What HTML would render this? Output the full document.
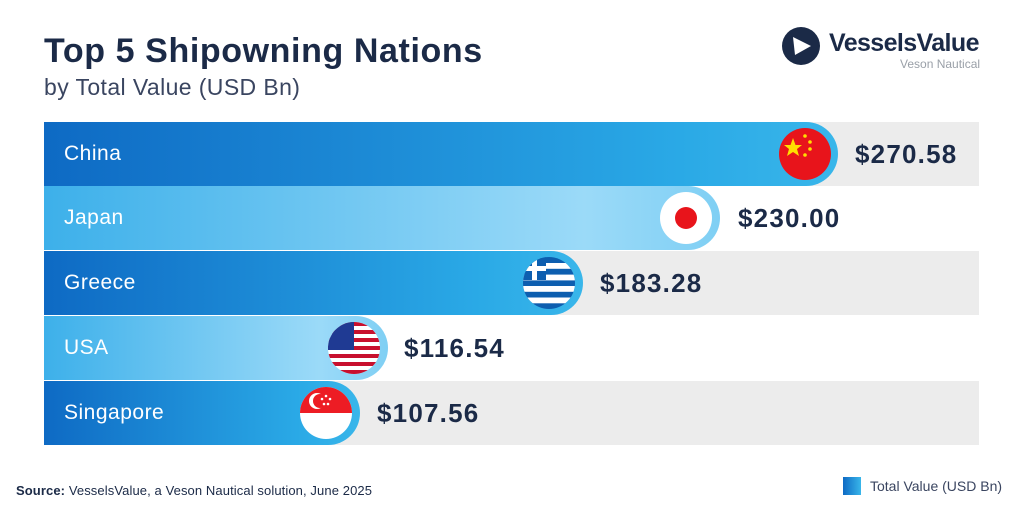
<!DOCTYPE html>
<html><head><meta charset="utf-8"><style>
body{margin:0;width:1024px;height:512px;background:#fff;position:relative;overflow:hidden;font-family:"Liberation Sans",sans-serif;color:#1b2a47}
.t{position:absolute;left:44px;top:32px;font-size:34px;font-weight:bold;letter-spacing:0.6px}
.s{position:absolute;left:44px;top:74px;font-size:23px;color:#3a4560;letter-spacing:0.4px}
.band{position:absolute;left:44px;width:935px;height:64px;background:#ececec}
.bar{position:absolute;left:44px;height:64px;border-radius:0 32px 32px 0}
.d{background:linear-gradient(90deg,#0e6ac4,#2aa9e6 80%,#39b6ea)}
.l{background:linear-gradient(90deg,#3db0ea,#9bdaf8 80%,#7fcff4)}
.lab{position:absolute;left:64px;font-size:21px;color:#fff;line-height:64px;letter-spacing:0.5px}
.val{position:absolute;font-size:26px;font-weight:bold;line-height:64px;letter-spacing:1.2px}
.f{position:absolute;width:52px;height:52px;border-radius:50%;overflow:hidden}
</style></head><body>
<div class="t">Top 5 Shipowning Nations</div>
<div class="s">by Total Value (USD Bn)</div>
<svg style="position:absolute;left:781px;top:26px" width="40" height="40"><circle cx="20" cy="20" r="19" fill="#1b2a47"/><polygon points="12,11 30,20 14,29" fill="#fff"/></svg>
<div style="position:absolute;left:829px;top:29px;font-size:25px;font-weight:bold;letter-spacing:-0.6px">VesselsValue</div>
<div style="position:absolute;left:900px;top:57px;font-size:12px;color:#9aa0a8">Veson Nautical</div>

<div class="band" style="top:122px"></div>
<div class="band" style="top:251px"></div>
<div class="band" style="top:381px"></div>

<div class="bar d" style="top:122px;width:794px"></div>
<div class="bar l" style="top:186px;width:676px"></div>
<div class="bar d" style="top:251px;width:539px"></div>
<div class="bar l" style="top:316px;width:344px"></div>
<div class="bar d" style="top:381px;width:316px"></div>

<div class="lab" style="top:122px">China</div>
<div class="lab" style="top:186px">Japan</div>
<div class="lab" style="top:251px">Greece</div>
<div class="lab" style="top:316px">USA</div>
<div class="lab" style="top:381px">Singapore</div>

<div class="f" style="left:779px;top:128px;background:#e8141b">
<svg width="52" height="52"><polygon points="14,10 16.5,17 23,17 18,21 20,28 14,24 8,28 10,21 5,17 11.5,17" fill="#ffde00"/><circle cx="26" cy="8" r="1.8" fill="#ffde00"/><circle cx="31" cy="14" r="1.8" fill="#ffde00"/><circle cx="31" cy="21" r="1.8" fill="#ffde00"/><circle cx="26" cy="27" r="1.8" fill="#ffde00"/></svg></div>
<div class="f" style="left:660px;top:192px;background:#fff"><div style="position:absolute;left:15px;top:15px;width:22px;height:22px;border-radius:50%;background:#e8141b"></div></div>
<div class="f" style="left:523px;top:257px;background:#0d5eaf">
<svg width="52" height="52"><g fill="#fff"><rect x="0" y="6" width="52" height="5.8"/><rect x="0" y="17.6" width="52" height="5.8"/><rect x="0" y="29" width="52" height="5.8"/><rect x="0" y="40.5" width="52" height="5.8"/></g><rect x="0" y="0" width="23" height="23" fill="#0d5eaf"/><rect x="9" y="0" width="5" height="23" fill="#fff"/><rect x="0" y="9" width="23" height="5" fill="#fff"/></svg></div>
<div class="f" style="left:328px;top:322px;background:#fff">
<svg width="52" height="52"><g fill="#c8102e"><rect y="0" width="52" height="4"/><rect y="8" width="52" height="4"/><rect y="16" width="52" height="4"/><rect y="24" width="52" height="4"/><rect y="32" width="52" height="4"/><rect y="40" width="52" height="4"/><rect y="48" width="52" height="4"/></g><rect width="26" height="28" fill="#1f3a93"/></svg></div>
<div class="f" style="left:300px;top:387px;background:#fff"><div style="height:26px;background:#ed1c24"></div>
<svg style="position:absolute;left:0;top:0" width="52" height="26"><circle cx="17" cy="14" r="8" fill="#fff"/><circle cx="20" cy="14" r="7" fill="#ed1c24"/><g fill="#fff"><circle cx="26" cy="9" r="1.3"/><circle cx="30" cy="12" r="1.3"/><circle cx="22" cy="12" r="1.3"/><circle cx="24" cy="17" r="1.3"/><circle cx="28" cy="17" r="1.3"/></g></svg></div>

<div class="val" style="left:855px;top:122px">$270.58</div>
<div class="val" style="left:738px;top:186px">$230.00</div>
<div class="val" style="left:600px;top:251px">$183.28</div>
<div class="val" style="left:404px;top:316px">$116.54</div>
<div class="val" style="left:377px;top:381px">$107.56</div>

<div style="position:absolute;left:16px;top:483px;font-size:13px;letter-spacing:0.1px"><b>Source:</b> VesselsValue, a Veson Nautical solution, June 2025</div>
<div style="position:absolute;left:843px;top:477px;width:18px;height:18px;background:linear-gradient(90deg,#0e6ac4,#39b6ea)"></div>
<div style="position:absolute;left:870px;top:478px;font-size:14px;color:#3a4560">Total Value (USD Bn)</div>
</body></html>
